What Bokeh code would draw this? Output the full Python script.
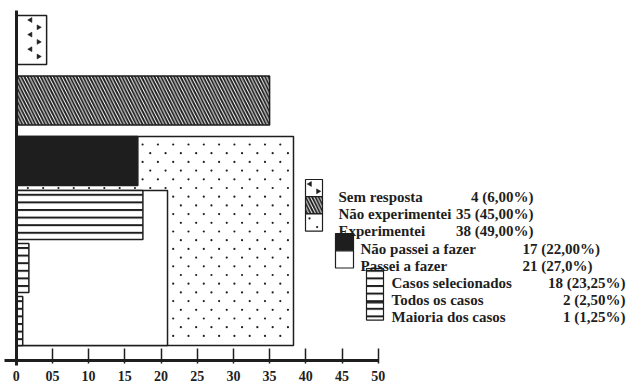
import math
from bokeh.plotting import figure
from bokeh.models import Range1d, FixedTicker, LinearAxis, ColumnDataSource
from bokeh.embed import file_html
from bokeh.resources import INLINE
from bokeh.core.properties import value

# ---------------- data ----------------
categories = ["Sem resposta", "Não experimentei", "Experimentei",
              "Não passei a fazer", "Passei a fazer",
              "Casos selecionados", "Todos os casos", "Maioria dos casos"]
parents = [None, None, None,
           "Experimentei", "Experimentei",
           "Passei a fazer", "Passei a fazer", "Passei a fazer"]
levels = [1, 1, 1, 2, 2, 3, 3, 3]
bar_values = [4.2, 35.0, 38.3, 16.8, 20.9, 17.5, 1.75, 0.9]
value_labels = ["4 (6,00%)", "35 (45,00%)", "38 (49,00%)",
                "17 (22,00%)", "21 (27,0%)",
                "18 (23,25%)", "2 (2,50%)", "1 (1,25%)"]
legend_names = ["Sem resposta", "Não experimentei", "Experimentei",
                "Não passei a fazer", "Passei a fazer",
                "Casos selecionados", " Todos os casos", " Maioria dos casos"]
tick_values = [0, 5, 10, 15, 20, 25, 30, 35, 40, 45, 50]
tick_labels = ["0", "05", "10", "15", "20", "25", "30", "35", "40", "45", "50"]

# ---------------- styles ----------------
INK = "#1e1e1e"
FONT = "Liberation Serif"
styles = {
    "Sem resposta": dict(fill_color="white"),
    "Não experimentei": dict(fill_color="white", hatch_pattern="left_diagonal_line", hatch_scale=6.5, hatch_weight=1.9),
    "Experimentei": dict(fill_color="white"),
    "Não passei a fazer": dict(fill_color=INK),
    "Passei a fazer": dict(fill_color="white"),
    "Casos selecionados": dict(fill_color="white", hatch_pattern="horizontal_line", hatch_scale=7.6, hatch_weight=2),
    "Todos os casos": dict(fill_color="white", hatch_pattern="horizontal_line", hatch_scale=7.6, hatch_weight=2),
    "Maioria dos casos": dict(fill_color="white", hatch_pattern="horizontal_line", hatch_scale=7.6, hatch_weight=2),
}
# scattered-mark fill patterns (spacing in px)
mark_fills = {
    "Sem resposta": dict(kind="chevron", dx=16, dy=7.3, ox=14.3, oy=4.5, lox=4.5, loy=4.5),
    "Experimentei": dict(kind="dot", dx=15.3, dy=8.7, ox=4, oy=8, lox=4, loy=4.5),
}


def style_for(c):
    st = dict(styles[c])
    if "hatch_pattern" in st:
        st["hatch_color"] = INK
    return st


# ---------------- layout ----------------
W, H = 627, 387
X0_PX = 15.7          # page px of value 0
PX_PER_UNIT = 7.24
x_start = -X0_PX / PX_PER_UNIT
x_end = x_start + W / PX_PER_UNIT


def px(page_x):
    return (page_x - X0_PX) / PX_PER_UNIT


def to_px(v):
    return X0_PX + v * PX_PER_UNIT


AXIS_Y = 360          # vertical data units are page pixels (top = 0)
ROW_H = 49
GAP = {1: 11.5, 2: 5, 3: 4}
TOP0 = 15

tops, bottoms = {}, {}
lvl = dict(zip(categories, levels))


def place(name, y):
    kids = [c for c, p in zip(categories, parents) if p == name]
    tops[name] = y
    if not kids:
        y += ROW_H
    else:
        for i, k in enumerate(kids):
            if i:
                y += GAP[lvl[k]]
            y = place(k, y)
    bottoms[name] = y
    return y


y = TOP0
roots = [c for c, p in zip(categories, parents) if p is None]
for i, r in enumerate(roots):
    if i:
        y += GAP[1]
    y = place(r, y)

p = figure(width=W, height=H, output_backend="svg", toolbar_location=None,
           x_range=Range1d(x_start, x_end), y_range=Range1d(H, 0),
           x_axis_location=None, y_axis_location=None,
           min_border_left=0, min_border_right=0,
           min_border_top=0, min_border_bottom=0)
p.outline_line_color = None
p.grid.visible = False
p.background_fill_color = "white"
p.border_fill_color = "white"


def add_marks(c, x0, x1, y0, y1, legend=False):
    """Scatter a staggered fill pattern of small marks inside a box (x in page px)."""
    f = mark_fills.get(c)
    if f is None:
        return
    ox = f["lox"] if legend else f["ox"]
    oy = f["loy"] if legend else f["oy"]
    margin = 2.5
    xs, ys, ang = [], [], []
    k = 0
    yy = y0 + oy
    while yy < y1 - margin:
        xx = x0 + ox + (f["dx"] / 2 if k % 2 else 0)
        while xx < x1 - margin:
            xs.append(px(xx))
            ys.append(yy)
            ang.append(math.pi / 2 if k % 2 == 0 else -math.pi / 2)
            xx += f["dx"]
        yy += f["dy"]
        k += 1
    if not xs:
        return
    if f["kind"] == "dot":
        p.scatter(xs, ys, marker="circle", size=2.2, fill_color=INK, line_color=None)
    else:
        p.scatter(x=xs, y=ys, angle=ang, marker="triangle", size=4.8,
                  fill_color=INK, line_color=INK, line_width=0.6)


# bars, drawn level by level
for level in (1, 2, 3):
    for c, v, l in zip(categories, bar_values, levels):
        if l != level:
            continue
        src = ColumnDataSource(dict(left=[0], right=[v], top=[tops[c]], bottom=[bottoms[c]]))
        p.quad(left="left", right="right", top="top", bottom="bottom", source=src,
               line_color=INK, line_width=1.5, **style_for(c))
        add_marks(c, to_px(0), to_px(v), tops[c], bottoms[c])

# vertical axis line at 0
yax = LinearAxis(fixed_location=0, bounds=(10, 365), ticker=FixedTicker(ticks=[]),
                 axis_line_width=3, axis_line_color=INK,
                 major_tick_line_color=None, minor_tick_line_color=None,
                 major_label_text_font_size="0px")
p.add_layout(yax, "left")

# x axis
xax = LinearAxis(fixed_location=AXIS_Y, ticker=FixedTicker(ticks=tick_values),
                 major_label_overrides={t: s for t, s in zip(tick_values, tick_labels)},
                 bounds=(px(4), tick_values[-1]),
                 axis_line_width=3, axis_line_color=INK,
                 major_tick_in=12, major_tick_out=3,
                 major_tick_line_width=1.5, major_tick_line_color=INK,
                 minor_tick_line_color=None,
                 major_label_standoff=7,
                 major_label_text_font=FONT, major_label_text_font_style="bold",
                 major_label_text_font_size="14px", major_label_text_color=INK)
p.add_layout(xax, "below")

# ---------------- legend ----------------
SW_LEFT = {1: 305, 2: 335, 3: 366}
SW_W = {1: 17, 2: 18, 3: 17}
SW_TOP_OFF = {1: -17.5, 2: -15, 3: -14.5}
TXT_X = {1: 338, 2: 360, 3: 391}
VAL_X = {1: 533, 2: 522, 3: 625}
VAL_ALIGN = {1: "right", 2: "left", 3: "right"}
BASE0 = 196.5
PITCH = 17.2
TXT_SIZE = "15px"

rows = list(zip(categories, legend_names, value_labels, levels))
for i, (c, name, lab, l) in enumerate(rows):
    base = BASE0 + PITCH * i
    top = base + SW_TOP_OFF[l]
    p.quad(left=[px(SW_LEFT[l])], right=[px(SW_LEFT[l] + SW_W[l])],
           top=[top], bottom=[top + PITCH],
           line_color=INK, line_width=1.2, **style_for(c))
    add_marks(c, SW_LEFT[l], SW_LEFT[l] + SW_W[l], top, top + PITCH, legend=True)

for i, (c, name, lab, l) in enumerate(rows):
    base = BASE0 + PITCH * i
    p.text(x=[px(TXT_X[l])], y=[base], text=[name],
           text_font=value(FONT), text_font_style="bold", text_font_size=TXT_SIZE,
           text_color=INK, text_baseline="alphabetic", text_align="left")
    p.text(x=[px(VAL_X[l])], y=[base], text=[lab],
           text_font=value(FONT), text_font_style="bold", text_font_size=TXT_SIZE,
           text_color=INK, text_baseline="alphabetic", text_align=VAL_ALIGN[l])

open("out.html", "w").write(file_html(p, INLINE))
